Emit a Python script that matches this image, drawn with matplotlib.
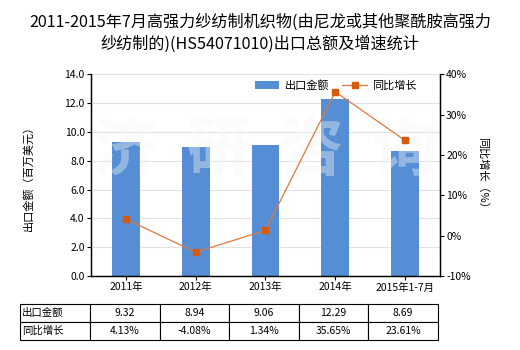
import matplotlib.pyplot as plt
import numpy as np

plt.rcParams['font.family'] = ['Noto Sans CJK SC', 'DejaVu Sans']

# export totals (million USD) and year-on-year growth (%)
years = ['2011年', '2012年', '2013年', '2014年', '2015年1-7月']
export_value = [9.32, 8.94, 9.06, 12.29, 8.69]
growth = [4.13, -4.08, 1.34, 35.65, 23.61]
value_labels = ['9.32', '8.94', '9.06', '12.29', '8.69']
growth_labels = ['4.13%', '-4.08%', '1.34%', '35.65%', '23.61%']

bar_color = '#558ed5'
line_color = '#e0783c'
marker_color = '#d65a0c'

fig = plt.figure(figsize=(5.2, 3.5), dpi=100)
ax = fig.add_axes([0.175, 0.211, 0.671, 0.577])
ax2 = ax.twinx()

x = np.arange(len(years))
bars = ax.bar(x, export_value, width=0.4, color=bar_color, zorder=2, label='出口金额')
ax.set_xlim(-0.5, len(years) - 0.5)
ax.set_ylim(0, 14)
ax.set_yticks(np.arange(0, 14.1, 2))
ax.set_yticklabels([f'{v:.1f}' for v in np.arange(0, 14.1, 2)])
ax.set_xticks(x)
ax.set_xticklabels(years)
ax.grid(axis='y', color='#e2e2e2', linewidth=0.8, zorder=0)
ax.set_axisbelow(True)
ax.tick_params(labelsize=7.5, length=3, width=0.8, pad=1.5)
ax.set_ylabel('出口金额（百万美元）', fontsize=8, labelpad=22)

line, = ax2.plot(x, growth, color=line_color, linewidth=0.9, marker='s',
                 markersize=4.5, markerfacecolor=marker_color,
                 markeredgecolor=marker_color, zorder=3, label='同比增长')
ax2.set_ylim(-10, 40)
ax2.set_yticks(np.arange(-10, 41, 10))
ax2.set_yticklabels([f'{v}%' for v in range(-10, 41, 10)])
ax2.tick_params(labelsize=7.5, length=3, width=0.8, pad=1.5)
ax2.set_ylabel('同比增长（%）', fontsize=8, rotation=-90, labelpad=12)

for a in (ax, ax2):
    a.spines['top'].set_visible(False)
    for s in ('left', 'right', 'bottom'):
        a.spines[s].set_linewidth(0.9)

# faint watermark over the plot area
ax.text(0.5, 0.62, '济  研  咨  询', transform=ax.transAxes, ha='center', va='center',
        fontsize=46, color='#f5f5f5', alpha=0.4, fontweight='bold', zorder=4)

ax.legend(handles=[bars, line], loc='upper left', bbox_to_anchor=(0.44, 1.02),
          ncol=2, frameon=False, fontsize=8, handlelength=2.2,
          columnspacing=1.2, handletextpad=0.5)

fig.suptitle('2011-2015年7月高强力纱纺制机织物(由尼龙或其他聚酰胺高强力\n纱纺制的)(HS54071010)出口总额及增速统计',
             fontsize=11.6, y=0.96, linespacing=1.3)

# data table under the axes
cells = [['出口金额'] + value_labels, ['同比增长'] + growth_labels]
tbl = ax.table(cellText=cells, cellLoc='center',
               colWidths=[70] + [69.5] * 5,
               bbox=[-0.203, -0.317, 1.197, 0.178])
tbl.auto_set_font_size(False)
tbl.set_fontsize(7.5)
for (r, c), cell in tbl.get_celld().items():
    cell.set_linewidth(0.8)
    if c == 0:
        cell.set_text_props(ha='left')
        cell.PAD = 0.03

fig.savefig('out.png', dpi=100)
